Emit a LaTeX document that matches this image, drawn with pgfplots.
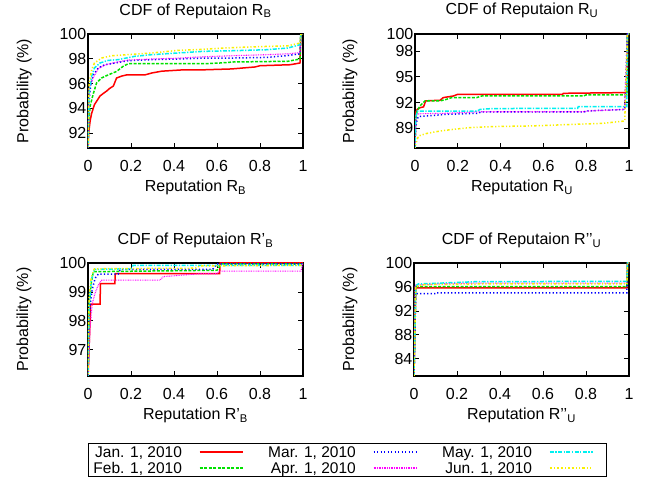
\documentclass[border=0pt]{standalone}
\usepackage{fontspec}
\setmainfont{Liberation Sans}
\usepackage{pgfplots}
\pgfplotsset{compat=1.18}
\definecolor{cRed}{RGB}{255,0,0}
\definecolor{cGreen}{RGB}{0,225,0}
\definecolor{cBlue}{RGB}{0,0,255}
\definecolor{cMag}{RGB}{255,0,255}
\definecolor{cCyan}{RGB}{0,240,240}
\definecolor{cYel}{RGB}{250,240,0}
\pgfplotsset{
  myax/.style={
    scale only axis, anchor=south west,
    xmin=0, xmax=1, xtick={0,0.2,0.4,0.6,0.8,1},
    axis line style={line width=1.2pt},
    major tick length=5pt, tick style={line width=0.9pt, black},
    tick align=inside,
    /pgf/number format/assume math mode=true,
    ticklabel style={font=\fontsize{16}{19}\selectfont},
    xticklabel style={anchor=base, yshift=-23.7pt},
    yticklabel style={anchor=east, inner sep=0pt, xshift=-1.5pt},
    label style={font=\fontsize{16}{19}\selectfont},
    title style={font=\fontsize{16}{19}\selectfont, at={(axis description cs:0.5,1)}, anchor=base},
    xlabel style={at={(axis description cs:0.5,0)}, anchor=base, yshift=-44pt},
    ylabel style={anchor=base},
    ylabel={Probability (\%)},
    clip=true,
  },
  s1/.style={color=cRed, line width=1.5pt, solid},
  s2/.style={color=cGreen, line width=1.5pt, dash pattern=on 3pt off 1.5pt},
  s3/.style={color=cBlue, line width=1.5pt, dash pattern=on 1.3pt off 2.2pt},
  s4/.style={color=cMag, line width=1.1pt, dash pattern=on 0.8pt off 0.9pt},
  s5/.style={color=cCyan, line width=1.5pt, dash pattern=on 4pt off 1.5pt on 1.3pt off 1.5pt},
  s6/.style={color=cYel, line width=1.5pt, dash pattern=on 2.5pt off 2pt on 1.2pt off 2pt on 1.2pt off 2pt},
}
\begin{document}
\begin{tikzpicture}
\path[use as bounding box] (0,0) rectangle (656pt,481pt);

% ---------- Panel 1 ----------
\begin{axis}[myax, at={(88pt,333pt)}, width=215pt, height=114pt,
  ymin=90.8, ymax=100, ytick={92,94,96,98,100},
  title={CDF of Reputaion R\textsubscript{B}}, title style={yshift=13pt},
  xlabel={Reputation R\textsubscript{B}},
  ylabel style={at={(axis description cs:-0.2777,0.5)}}]
\addplot[s1] coordinates {(0,90.5)(0.003,92.0)(0.01,93.0)(0.017,93.6)(0.03,94.3)(0.056,95.0)(0.071,95.2)(0.087,95.4)(0.10,95.6)(0.118,95.8)(0.133,96.45)(0.156,96.6)(0.18,96.7)(0.265,96.7)(0.296,96.85)(0.343,97.0)(0.436,97.1)(0.52,97.1)(0.668,97.18)(0.777,97.34)(0.8,97.44)(0.94,97.52)(0.986,97.66)(0.99,100)(1,100)};
\addplot[s2] coordinates {(0,90.5)(0.003,92.8)(0.01,94.2)(0.025,95.2)(0.04,96.05)(0.063,96.45)(0.094,96.7)(0.133,96.98)(0.164,97.4)(0.187,97.6)(0.54,97.6)(0.614,97.66)(0.675,97.74)(0.93,97.8)(0.986,97.98)(0.99,100)(1,100)};
\addplot[s3] coordinates {(0,90.5)(0.003,94.2)(0.008,95.2)(0.014,96.05)(0.025,96.7)(0.048,97.26)(0.079,97.52)(0.126,97.66)(0.187,97.85)(0.296,97.93)(0.42,97.98)(0.536,98.06)(0.675,98.06)(0.83,98.11)(0.924,98.25)(0.986,98.4)(0.99,100)(1,100)};
\addplot[s4] coordinates {(0,90.5)(0.005,95.6)(0.025,96.5)(0.048,97.2)(0.079,97.5)(0.126,97.7)(0.187,97.9)(0.296,97.98)(0.42,98.05)(0.52,98.15)(0.675,98.25)(0.83,98.33)(0.93,98.4)(0.986,98.5)(0.99,100)(1,100)};
\addplot[s5] coordinates {(0,90.5)(0.005,95.2)(0.017,96.6)(0.03,97.26)(0.056,97.66)(0.094,97.87)(0.14,97.93)(0.218,98.2)(0.296,98.33)(0.42,98.47)(0.536,98.6)(0.675,98.65)(0.83,98.73)(0.93,98.87)(0.986,99.14)(0.99,100)(1,100)};
\addplot[s6] coordinates {(0,90.5)(0.005,96.0)(0.017,97.1)(0.03,97.66)(0.063,98.06)(0.11,98.25)(0.187,98.33)(0.296,98.47)(0.42,98.68)(0.52,98.75)(0.63,98.87)(0.75,98.95)(0.93,99.05)(0.986,99.27)(0.99,100)(1,100)};
\end{axis}

% ---------- Panel 2 ----------
\begin{axis}[myax, at={(415pt,333pt)}, width=214pt, height=114pt,
  ymin=86.7, ymax=100, ytick={89,92,95,98,100},
  title={CDF of Reputaion R\textsubscript{U}}, title style={yshift=13pt},
  xlabel={Reputation R\textsubscript{U}},
  ylabel style={at={(axis description cs:-0.2841,0.5)}}]
\addplot[s1] coordinates {(0,86.5)(0.003,90.83)(0.01,91.2)(0.023,91.4)(0.04,91.5)(0.05,92.2)(0.117,92.27)(0.132,92.58)(0.18,92.77)(0.2,92.97)(0.69,92.97)(0.693,93.08)(0.975,93.16)(0.99,93.2)(0.993,100)(1,100)};
\addplot[s2] coordinates {(0,86.5)(0.003,90.05)(0.01,91.0)(0.023,91.6)(0.047,92.2)(0.117,92.19)(0.148,92.38)(0.172,92.58)(0.288,92.58)(0.312,92.77)(0.787,92.77)(0.80,92.89)(0.99,92.89)(0.993,100)(1,100)};
\addplot[s3] coordinates {(0,86.5)(0.003,89.08)(0.01,90.05)(0.016,90.36)(0.148,90.63)(0.29,90.75)(0.31,90.9)(0.79,90.9)(0.80,91.02)(0.98,91.2)(0.993,100)(1,100)};
\addplot[s4] coordinates {(0,86.5)(0.005,90.6)(0.023,90.7)(0.148,90.75)(0.31,90.93)(0.79,90.93)(0.80,91.0)(0.98,91.2)(0.993,100)(1,100)};
\addplot[s5] coordinates {(0,86.5)(0.003,90.2)(0.01,91.0)(0.29,91.0)(0.304,91.2)(0.36,91.3)(0.76,91.33)(0.763,91.53)(0.99,91.53)(0.993,100)(1,100)};
\addplot[s6] coordinates {(0,86.5)(0.003,87.13)(0.016,88.1)(0.055,88.4)(0.117,88.68)(0.18,88.88)(0.257,89.08)(0.366,89.2)(0.537,89.27)(0.63,89.35)(0.755,89.47)(0.88,89.58)(0.98,89.85)(0.993,100)(1,100)};
\end{axis}

% ---------- Panel 3 ----------
\begin{axis}[myax, at={(88pt,105pt)}, width=215pt, height=113pt,
  ymin=96.1, ymax=100, ytick={97,98,99,100},
  title={CDF of Reputaion R'\textsubscript{B}}, title style={yshift=12pt},
  xlabel={Reputation R'\textsubscript{B}},
  ylabel style={at={(axis description cs:-0.2781,0.5)}},
  legend plot pos=right,
  legend columns=2, transpose legend,
  legend cell align=right,
  legend image code/.code={\draw[#1] (0pt,0pt) -- (43pt,0pt); \path (51pt,0pt);},
  legend style={at={(axis description cs:1.2070,-0.7434)}, anchor=center,
    draw=black, line width=0.9pt, inner xsep=5pt, inner ysep=1.3pt,
    font=\fontsize{15.5}{18}\selectfont,
    nodes={inner sep=0pt, text height=12.5pt, text depth=2.2pt},
    row sep=1.3pt,
    /tikz/every odd column/.append style={column sep=17pt},
    /tikz/every even column/.append style={column sep=16.8pt}},
  ]
\addplot[s1] coordinates {(0,96.0)(0.012,98.58)(0.056,98.58)(0.058,99.29)(0.125,99.29)(0.127,99.63)(0.612,99.63)(0.615,100)(1,100)};
\addlegendentry{Jan. 1, 2010}
\addplot[s2] coordinates {(0,96.0)(0.005,98.5)(0.015,99.3)(0.025,99.7)(0.6,99.75)(0.62,99.97)(1,99.97)};
\addlegendentry{Feb. 1, 2010}
\addplot[s3] coordinates {(0,96.0)(0.005,98.0)(0.012,98.7)(0.02,99.1)(0.033,99.47)(0.048,99.62)(0.14,99.62)(0.15,99.78)(0.58,99.78)(0.6,99.97)(1,99.97)};
\addlegendentry{Mar. 1, 2010}
\addplot[s4] coordinates {(0,96.0)(0.01,97.8)(0.02,98.6)(0.033,98.96)(0.048,99.24)(0.064,99.41)(0.335,99.41)(0.35,99.53)(0.52,99.63)(0.6,99.63)(0.61,99.72)(0.99,99.72)(1,100)};
\addlegendentry{Apr. 1, 2010}
\addplot[s5] coordinates {(0,96.0)(0.005,98.5)(0.015,99.4)(0.03,99.78)(0.2,99.8)(0.21,99.92)(1,99.92)};
\addlegendentry{May. 1, 2010}
\addplot[s6] coordinates {(0,96.0)(0.005,98.8)(0.015,99.5)(0.03,99.8)(0.5,99.82)(0.52,99.9)(1,99.92)};
\addlegendentry{Jun. 1, 2010}
\end{axis}

% ---------- Panel 4 ----------
\begin{axis}[myax, at={(414pt,105pt)}, width=215pt, height=113pt,
  ymin=81.15, ymax=100, ytick={84,88,92,96,100},
  title={CDF of Reputaion R'{}'\textsubscript{U}}, title style={yshift=12pt},
  xlabel={Reputation R'{}'\textsubscript{U}},
  ylabel style={at={(axis description cs:-0.2781,0.5)}}]
\addplot[s1] coordinates {(0,81.0)(0.008,95.87)(0.99,95.87)(0.993,100)(1,100)};
\addplot[s2] coordinates {(0,81.0)(0.008,96.04)(0.99,96.04)(0.993,100)(1,100)};
\addplot[s3] coordinates {(0,81.0)(0.008,94.87)(0.1,94.87)(0.105,95.03)(0.99,95.03)(0.993,100)(1,100)};
\addplot[s4] coordinates {(0,81.0)(0.005,96.3)(0.1,96.5)(0.3,96.65)(0.99,96.65)(0.993,100)(1,100)};
\addplot[s5] coordinates {(0,81.0)(0.008,96.2)(0.02,96.5)(0.3,96.9)(0.99,96.93)(0.993,100)(1,100)};
\addplot[s6] coordinates {(0,81.0)(0.008,96.1)(0.05,96.4)(0.3,96.5)(0.99,96.5)(0.993,100)(1,100)};
\end{axis}
\end{tikzpicture}
\end{document}
